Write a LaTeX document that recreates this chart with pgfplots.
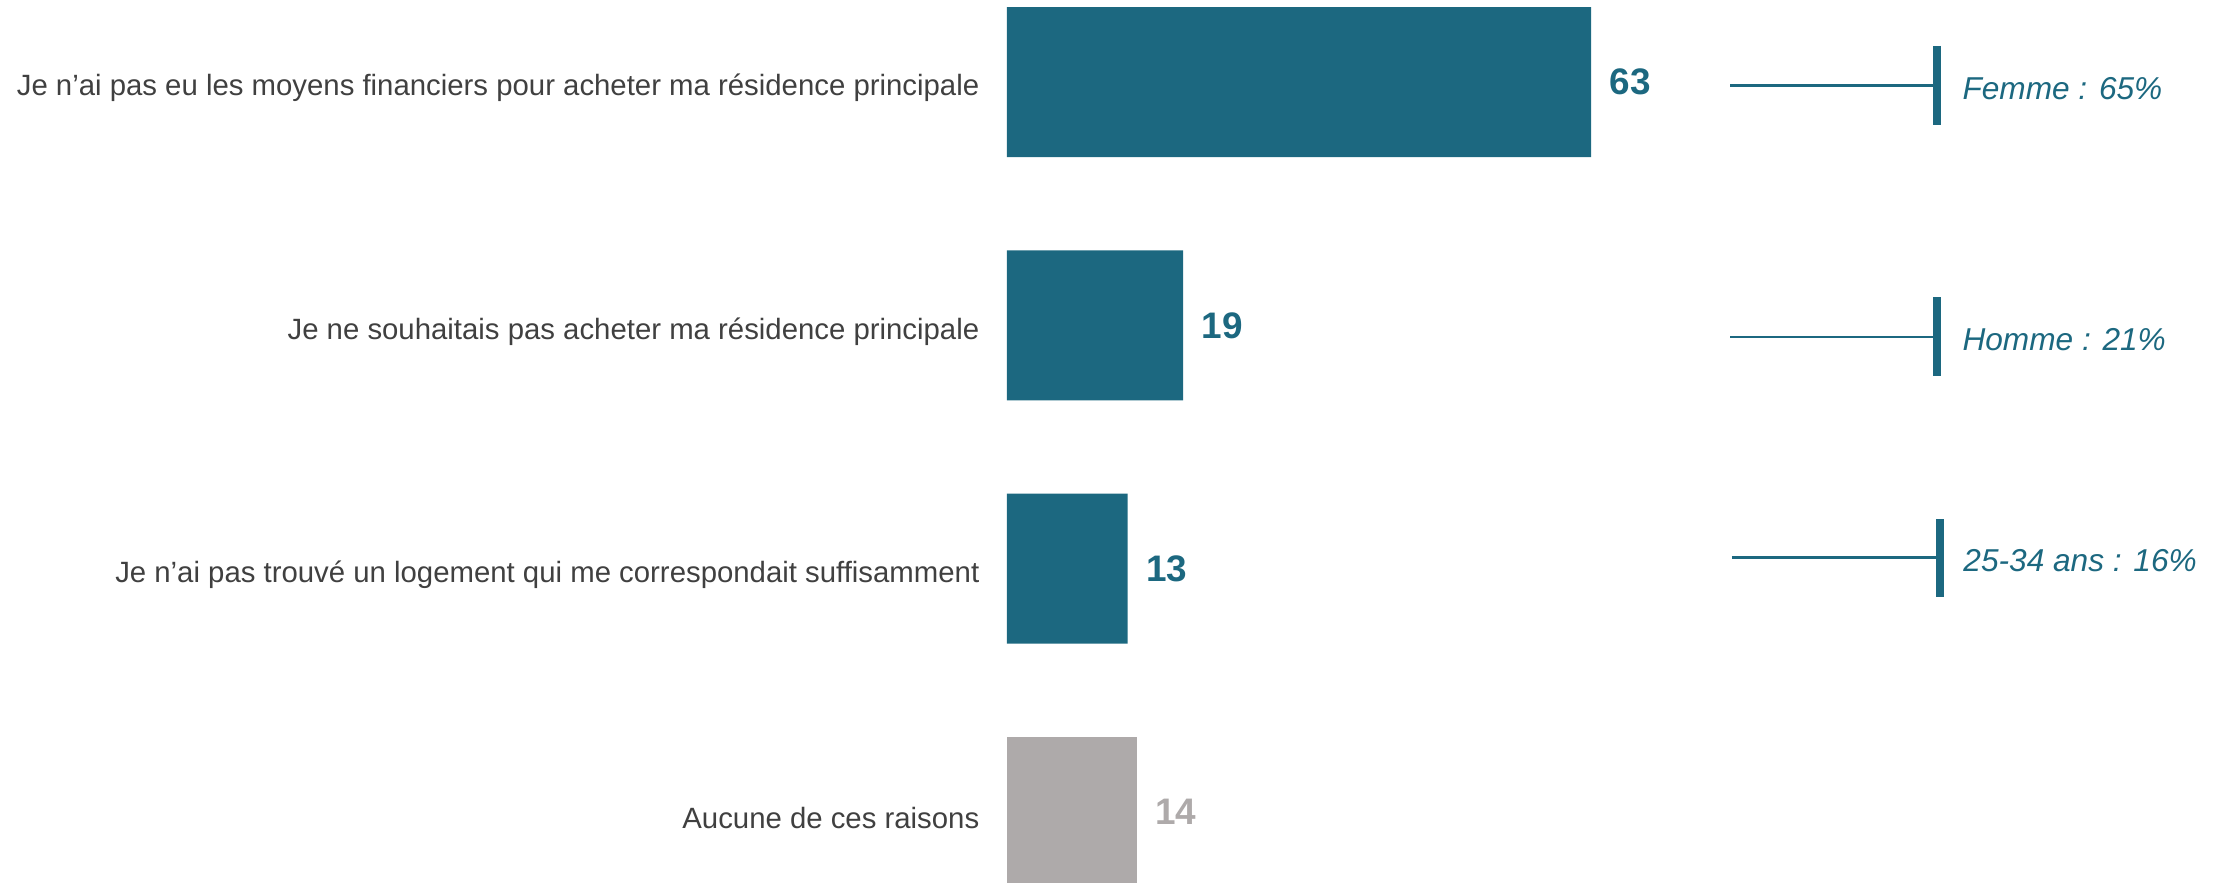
\documentclass[border=0pt]{standalone}
\usepackage{pgfplots}
\pgfplotsset{compat=1.18}
\usepackage{fontspec}
\setmainfont{Liberation Sans}
\definecolor{teal1}{RGB}{28,104,128}
\definecolor{grey1}{RGB}{174,170,170}
\definecolor{txt}{RGB}{64,64,64}
\begin{document}
\begin{tikzpicture}
\begin{axis}[
  at={(10.07cm,0cm)}, anchor=south west,
  scale only axis, width=12.17cm, height=8.83cm,
  xmin=0, xmax=131.28, ymin=-0.337, ymax=3.292, y dir=reverse,
  enlargelimits=false, clip=false,
  xbar, bar width=1.5cm, bar shift=0pt,
  axis line style={draw=none}, tick style={draw=none},
  xtick=\empty, ytick={0,1,2,3},
  yticklabels={Je n’ai pas eu les moyens financiers pour acheter ma résidence principale, Je ne souhaitais pas acheter ma résidence principale, Je n’ai pas trouvé un logement qui me correspondait suffisamment, Aucune de ces raisons},
  yticklabel style={font=\fontsize{8.35}{10}\selectfont, text=txt, inner sep=0pt, xshift=-0.12cm, yshift=-0.06cm},
  point meta=x,
  /pgf/number format/assume math mode=true,
  nodes near coords,
  nodes near coords style={font=\bfseries\fontsize{10.5}{12}\selectfont, anchor=west, inner sep=0pt, xshift=0.18cm},
]
\addplot[fill=teal1, draw=none, every node near coord/.append style={text=teal1}] coordinates {(63,0) (19,1) (13,2)};
\addplot[fill=grey1, draw=none, every node near coord/.append style={text=grey1}] coordinates {(14,3)};

\draw[teal1, line width=0.85pt] (axis cs:78.0,0.016) -- (axis cs:100.3,0.016);
\draw[teal1, line width=0.08cm] (axis cs:100.3,-0.148) -- (axis cs:100.3,0.177);
\node[anchor=west, text=teal1, font=\itshape\fontsize{9}{11}\selectfont, inner sep=0pt, yshift=-0.03cm] at (axis cs:103.0,0.016) {Femme : 65\%};

\draw[teal1, line width=0.85pt] (axis cs:78.0,1.048) -- (axis cs:100.3,1.048);
\draw[teal1, line width=0.08cm] (axis cs:100.3,0.884) -- (axis cs:100.3,1.208);
\node[anchor=west, text=teal1, font=\itshape\fontsize{9}{11}\selectfont, inner sep=0pt, yshift=-0.03cm] at (axis cs:103.0,1.048) {Homme : 21\%};

\draw[teal1, line width=0.85pt] (axis cs:78.2,1.956) -- (axis cs:100.6,1.956);
\draw[teal1, line width=0.08cm] (axis cs:100.6,1.796) -- (axis cs:100.6,2.116);
\node[anchor=west, text=teal1, font=\itshape\fontsize{9}{11}\selectfont, inner sep=0pt, yshift=-0.03cm] at (axis cs:103.1,1.956) {25-34 ans : 16\%};
\end{axis}
\pgfresetboundingbox
\path[use as bounding box] (0,0) rectangle (22.24cm,8.83cm);
\end{tikzpicture}
\end{document}
